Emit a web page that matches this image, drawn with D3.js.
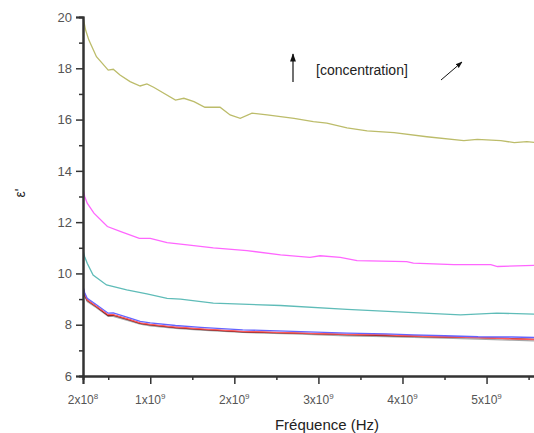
<!DOCTYPE html>
<html>
<head>
<meta charset="utf-8">
<script src="https://d3js.org/d3.v7.min.js"></script>
<style>
  body { margin: 0; background: #fff; }
  text { font-family: Arial, "Liberation Sans", sans-serif; }
</style>
</head>
<body>
<div id="chart-area"></div>
<script>
// frequency in units of 1e9 Hz, permittivity values
const oliveF = [0.2, 0.23, 0.27, 0.36, 0.5, 0.56, 0.64, 0.76, 0.88, 0.96, 1.04, 1.3, 1.4, 1.52, 1.65, 1.83, 1.95, 2.07, 2.21, 2.39, 2.71, 2.94, 3.1, 3.34, 3.58, 3.9, 4.29, 4.73, 4.89, 5.17, 5.33, 5.48, 5.6]
const oliveV = [20.0, 19.5, 19.1, 18.45, 17.93, 17.96, 17.74, 17.48, 17.31, 17.39, 17.26, 16.76, 16.83, 16.7, 16.48, 16.48, 16.18, 16.05, 16.25, 16.18, 16.05, 15.92, 15.86, 15.68, 15.56, 15.49, 15.33, 15.18, 15.23, 15.18, 15.1, 15.14, 15.1]

const magentaF = [0.2, 0.22, 0.25, 0.33, 0.49, 0.65, 0.87, 1.0, 1.2, 1.44, 1.75, 2.15, 2.55, 2.9, 3.02, 3.26, 3.46, 4.05, 4.13, 4.61, 5.05, 5.13, 5.6]
const magentaV = [13.32, 13.0, 12.74, 12.35, 11.83, 11.63, 11.37, 11.37, 11.2, 11.11, 11.0, 10.89, 10.72, 10.63, 10.69, 10.63, 10.5, 10.46, 10.4, 10.34, 10.34, 10.27, 10.32]

const tealF = [0.2, 0.22, 0.25, 0.32, 0.48, 0.72, 0.96, 1.2, 1.36, 1.75, 2.55, 3.34, 4.13, 4.69, 5.12, 5.6]
const tealV = [10.9, 10.65, 10.4, 9.94, 9.55, 9.36, 9.2, 9.03, 9.0, 8.84, 8.75, 8.6, 8.47, 8.38, 8.45, 8.41]

const baseF = [0.2, 0.22, 0.25, 0.36, 0.5, 0.56, 0.76, 0.88, 1.0, 1.3, 1.6, 2.1, 2.7, 3.34, 3.8, 4.13, 4.5, 4.9, 5.3, 5.6]
const blueV = [9.5, 9.25, 9.03, 8.78, 8.45, 8.46, 8.26, 8.13, 8.07, 7.97, 7.9, 7.8, 7.74, 7.67, 7.64, 7.6, 7.57, 7.53, 7.52, 7.5]
const redV = [9.45, 9.2, 8.97, 8.72, 8.39, 8.39, 8.2, 8.07, 8.01, 7.91, 7.84, 7.74, 7.68, 7.62, 7.6, 7.56, 7.53, 7.5, 7.45, 7.42]
const maroonV = [9.4, 9.15, 8.95, 8.7, 8.36, 8.37, 8.18, 8.05, 7.99, 7.89, 7.82, 7.72, 7.67, 7.61, 7.58, 7.55, 7.52, 7.5, 7.46, 7.42]
const greyV = [9.35, 9.1, 8.9, 8.66, 8.33, 8.33, 8.14, 8.02, 7.96, 7.86, 7.79, 7.7, 7.64, 7.57, 7.54, 7.51, 7.48, 7.44, 7.4, 7.37]

const yTicks = [6, 8, 10, 12, 14, 16, 18, 20]
const yMinor = [7, 9, 11, 13, 15, 17, 19]
const xTicks = [0.2, 1, 2, 3, 4, 5]
const xMinor = [0.5, 1.5, 2.5, 3.5, 4.5, 5.5]
const xTickLabels = [["2x10", "8"], ["1x10", "9"], ["2x10", "9"], ["3x10", "9"], ["4x10", "9"], ["5x10", "9"]]

const series = [
  { f: baseF, v: greyV, color: "#a8a8a8" },
  { f: baseF, v: maroonV, color: "#7a1010" },
  { f: baseF, v: redV, color: "#ff5a5a" },
  { f: baseF, v: blueV, color: "#6464ff" },
  { f: tealF, v: tealV, color: "#5fbcb8" },
  { f: magentaF, v: magentaV, color: "#ff66ff" },
  { f: oliveF, v: oliveV, color: "#bcbc6a" }
]

const WIDTH = 534, HEIGHT = 433

const svg = d3.select("#chart-area").append("svg")
  .attr("width", WIDTH)
  .attr("height", HEIGHT)

const x = d3.scaleLinear().domain([0.2, 5.6]).range([83, 537])
const y = d3.scaleLinear().domain([6, 20]).range([376, 17])

const line = d3.line()
  .x(d => x(d[0]))
  .y(d => y(d[1]))

svg.append("clipPath").attr("id", "plot-clip")
  .append("rect").attr("x", 83).attr("y", 0).attr("width", WIDTH - 83).attr("height", 376)

const curves = svg.append("g").attr("clip-path", "url(#plot-clip)")
series.forEach(s => {
  curves.append("path")
    .datum(s.f.map((f, i) => [f, s.v[i]]))
    .attr("fill", "none")
    .attr("stroke", s.color)
    .attr("stroke-width", 1.3)
    .attr("d", line)
})

function styleAxis(g) {
  g.selectAll(".domain").attr("stroke", "#333").attr("stroke-width", 2)
  g.selectAll(".tick line").attr("stroke", "#333").attr("stroke-width", 1.5)
}

// Y axis
const yMinorGroup = svg.append("g").attr("transform", "translate(83,0)")
  .call(d3.axisLeft(y).tickValues(yMinor).tickSize(4).tickFormat(""))
styleAxis(yMinorGroup)
const yAxisGroup = svg.append("g").attr("transform", "translate(83,0)")
  .call(d3.axisLeft(y).tickValues(yTicks).tickSize(7).tickPadding(4).tickFormat(d3.format("d")))
styleAxis(yAxisGroup)
yAxisGroup.selectAll(".tick text").attr("font-size", "13px").attr("fill", "#555")

// X axis
const xMinorGroup = svg.append("g").attr("transform", "translate(0,376)")
  .call(d3.axisBottom(x).tickValues(xMinor).tickSize(4).tickFormat(""))
styleAxis(xMinorGroup)
const xAxisGroup = svg.append("g").attr("transform", "translate(0,376)")
  .call(d3.axisBottom(x).tickValues(xTicks).tickSize(8).tickFormat(""))
styleAxis(xAxisGroup)

xTicks.forEach((t, i) => {
  const label = svg.append("text")
    .attr("x", x(t))
    .attr("y", 404)
    .attr("text-anchor", "middle")
    .attr("font-size", "12px")
    .attr("fill", "#555")
  label.append("tspan").text(xTickLabels[i][0])
  label.append("tspan").attr("dy", -5).attr("font-size", "8px").text(xTickLabels[i][1])
})

// axis titles
svg.append("text")
  .attr("x", 327)
  .attr("y", 430)
  .attr("text-anchor", "middle")
  .attr("font-size", "15px")
  .attr("fill", "#222")
  .text("Fréquence (Hz)")

svg.append("text")
  .attr("transform", "translate(25,193) rotate(-90)")
  .attr("text-anchor", "middle")
  .attr("font-size", "14px")
  .attr("fill", "#222")
  .text("ε'")

// annotation
const defs = svg.append("defs")
defs.append("marker").attr("id", "arrow")
  .attr("viewBox", "0 0 10 10").attr("refX", 9).attr("refY", 5)
  .attr("markerWidth", 7).attr("markerHeight", 7).attr("orient", "auto")
  .append("path").attr("d", "M0,1.5 L10,5 L0,8.5 Z").attr("fill", "#111")

svg.append("line")
  .attr("x1", 293).attr("y1", 82).attr("x2", 293).attr("y2", 54)
  .attr("stroke", "#111").attr("stroke-width", 1.2)
  .attr("marker-end", "url(#arrow)")

svg.append("text")
  .attr("x", 316)
  .attr("y", 75)
  .attr("font-size", "14px")
  .attr("fill", "#222")
  .text("[concentration]")

svg.append("line")
  .attr("x1", 441).attr("y1", 80).attr("x2", 462).attr("y2", 62)
  .attr("stroke", "#111").attr("stroke-width", 1)
  .attr("marker-end", "url(#arrow)")
</script>
</body>
</html>
